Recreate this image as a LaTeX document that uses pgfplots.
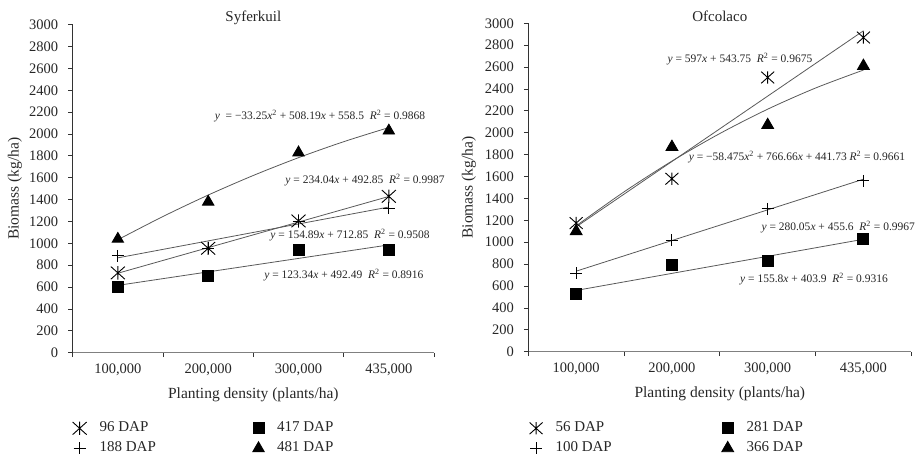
\documentclass[border=0pt]{standalone}
\usepackage{fontspec}
\setmainfont{Liberation Serif}
\usepackage{pgfplots}
\pgfplotsset{compat=1.18}

\pgfdeclareplotmark{xast}{%
  \pgfpathmoveto{\pgfpoint{-\pgfplotmarksize}{-0.9\pgfplotmarksize}}%
  \pgfpathlineto{\pgfpoint{\pgfplotmarksize}{0.9\pgfplotmarksize}}%
  \pgfpathmoveto{\pgfpoint{-\pgfplotmarksize}{0.9\pgfplotmarksize}}%
  \pgfpathlineto{\pgfpoint{\pgfplotmarksize}{-0.9\pgfplotmarksize}}%
  \pgfpathmoveto{\pgfpoint{0pt}{-0.95\pgfplotmarksize}}%
  \pgfpathlineto{\pgfpoint{0pt}{0.95\pgfplotmarksize}}%
  \pgfusepathqstroke
}

\newcommand{\tfs}{\fontsize{14.5bp}{16bp}\selectfont}
\newcommand{\fs}{\fontsize{15.5bp}{17bp}\selectfont}
\newcommand{\lfs}{\fontsize{15bp}{17bp}\selectfont}
\newcommand{\eqfs}{\fontsize{11.5bp}{13bp}\selectfont}

\pgfplotsset{
  panel/.style={
    scale only axis,
    axis lines*=left,
    x axis line style={draw=black!50, line width=0.9bp},
    y axis line style={draw=black!80, line width=0.8bp},
    tick style={draw=black!80, line width=0.8bp},
    tick align=outside,
    major tick length=4.5bp,
    xmin=0.5, xmax=4.5, ymin=0, ymax=3000,
    xtick={0.5,1.5,2.5,3.5,4.5}, xticklabels={,,,,},
    extra x ticks={1,2,3,4},
    extra x tick labels={{100,000},{200,000},{300,000},{435,000}},
    extra x tick style={major tick length=0pt, xticklabel style={yshift=-7.5bp}},
    ytick={0,200,...,3000},
    yticklabel style={xshift=-6.5bp},
    /pgf/number format/assume math mode=true,
    /pgf/number format/1000 sep={},
    tick label style={font=\tfs, text=black!85},
    label style={font=\fs, text=black!85},
    title style={font=\lfs, text=black!85, at={(axis description cs:0.5,1.003)}, anchor=center},
    xlabel={Planting density (plants/ha)},
    ylabel={Biomass (kg/ha)},
    xlabel style={at={(axis description cs:0.5,-0.128)}, anchor=center},
    clip=false,
    legend columns=2, transpose legend, legend cell align=left,
    legend style={draw=none, fill=none, anchor=north west, font=\lfs,
      row sep=3bp, nodes={inner sep=2bp, text height=10bp, text depth=3bp, text=black!85},
      /tikz/every odd column/.append style={column sep=11bp}},
  },
  fit/.style={draw=black!65, line width=0.8bp, no marks, forget plot},
  mk/.style={only marks, black, mark options={solid, line width=0.9bp, fill=black},
    legend image code/.code={\draw[##1] plot coordinates {(0bp,0bp)};}},
}

\begin{document}
\begin{tikzpicture}
\path[use as bounding box] (0bp,0bp) rectangle (915bp,458bp);

% ---------- Syferkuil ----------
\begin{axis}[panel,
  at={(72.7bp,105.3bp)}, anchor=south west,
  width=361.3bp, height=328bp,
  title={Syferkuil},
  ylabel style={at={(axis description cs:-0.16,0.5)}, anchor=center},
  legend style={at={(axis description cs:-0.009,-0.198)},
    /tikz/every even column/.append style={column sep=95bp}},
]
\addplot[fit] coordinates {(1,726.89) (4,1429.01)};
\addplot[fit] coordinates {(1,867.74) (4,1332.41)};
\addplot[fit] coordinates {(1,615.83) (4,985.85)};
\addplot[fit, smooth] coordinates {(1,1033.44) (1.5,1245.97) (2,1441.88) (2.5,1621.16) (3,1783.82) (3.5,1929.85) (4,2059.26)};

\addplot[mk, mark=xast, mark size=7bp] coordinates {(1,730) (2,955) (3,1205) (4,1430)};
\addplot[mk, mark=+, mark size=6bp] coordinates {(1,885) (2,955) (3,1200) (4,1320)};
\addplot[mk, mark=square*, mark size=5.5bp] coordinates {(1,605) (2,705) (3,940) (4,940)};
\addplot[mk, mark=triangle*, mark size=6.5bp] coordinates {(1,1040) (2,1380) (3,1830) (4,2030)};
\legend{96 DAP, 188 DAP, 417 DAP, 481 DAP}

\node[font=\eqfs, text=black!85] at (axis cs:3.238,2165) {\textit{y}\ \ = −33.25\textit{x}\textsuperscript{2} + 508.19\textit{x} + 558.5\ \ \textit{R}\textsuperscript{2} = 0.9868};
\node[font=\eqfs, text=black!85] at (axis cs:3.736,1580) {\textit{y} = 234.04\textit{x} + 492.85\ \ \textit{R}\textsuperscript{2} = 0.9987};
\node[font=\eqfs, text=black!85] at (axis cs:3.570,1076) {\textit{y} = 154.89\textit{x} + 712.85\ \ \textit{R}\textsuperscript{2} = 0.9508};
\node[font=\eqfs, text=black!85] at (axis cs:3.503,711) {\textit{y} = 123.34\textit{x} + 492.49\ \ \textit{R}\textsuperscript{2} = 0.8916};
\end{axis}

% ---------- Ofcolaco ----------
\begin{axis}[panel,
  at={(528.3bp,106.3bp)}, anchor=south west,
  width=383bp, height=328.4bp,
  title={Ofcolaco},
  ylabel style={at={(axis description cs:-0.155,0.5)}, anchor=center},
  legend style={at={(axis description cs:-0.005,-0.2007)},
    /tikz/every even column/.append style={column sep=108bp}},
]
\addplot[fit] coordinates {(1,1140.75) (4,2931.75)};
\addplot[fit] coordinates {(1,735.65) (4,1575.80)};
\addplot[fit] coordinates {(1,559.70) (4,1027.10)};
\addplot[fit, smooth] coordinates {(1,1149.92) (1.5,1460.15) (2,1741.15) (2.5,1992.91) (3,2215.44) (3.5,2408.72) (4,2572.77)};

\addplot[mk, mark=xast, mark size=6.5bp] coordinates {(1,1175) (2,1580) (3,2505) (4,2870)};
\addplot[mk, mark=+, mark size=6bp] coordinates {(1,715) (2,1020) (3,1305) (4,1560)};
\addplot[mk, mark=square*, mark size=5.5bp] coordinates {(1,525) (2,790) (3,825) (4,1030)};
\addplot[mk, mark=triangle*, mark size=6.8bp] coordinates {(1,1100) (2,1870) (3,2070) (4,2610)};
\legend{56 DAP, 100 DAP, 281 DAP, 366 DAP}

\node[font=\eqfs, text=black!85] at (axis cs:2.711,2674) {\textit{y} = 597\textit{x} + 543.75\ \ \textit{R}\textsuperscript{2} = 0.9675};
\node[font=\eqfs, text=black!85] at (axis cs:3.306,1779) {\textit{y} = −58.475\textit{x}\textsuperscript{2} + 766.66\textit{x} + 441.73\ \textit{R}\textsuperscript{2} = 0.9661};
\node[font=\eqfs, text=black!85, anchor=west] at (axis cs:2.899,1139) {\textit{y} = 280.05\textit{x} + 455.6\ \ \textit{R}\textsuperscript{2} = 0.9967};
\node[font=\eqfs, text=black!85] at (axis cs:3.484,664) {\textit{y} = 155.8\textit{x} + 403.9\ \ \textit{R}\textsuperscript{2} = 0.9316};
\end{axis}
\end{tikzpicture}
\end{document}
